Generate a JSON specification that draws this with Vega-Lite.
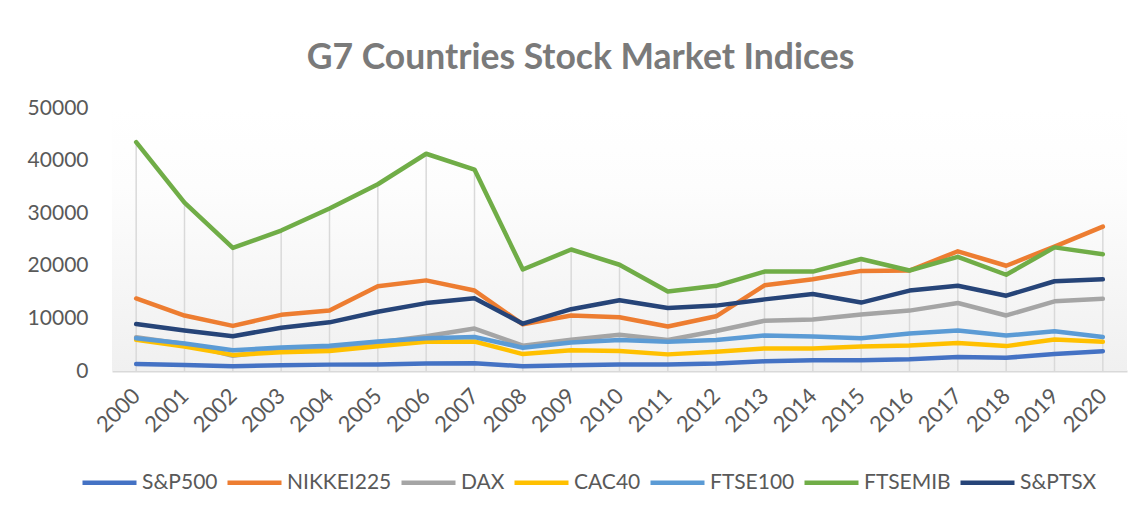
{
  "$schema": "https://vega.github.io/schema/vega-lite/v6.json",
  "width": 1015,
  "height": 263,
  "autosize": {"type": "none"},
  "padding": {"left": 112, "top": 108, "right": 20, "bottom": 145},
  "background": "#ffffff",
  "config": {
    "view": {"stroke": null},
    "font": "Lato"
  },
  "title": {
    "text": "G7 Countries Stock Market Indices",
    "font": "Lato",
    "fontSize": 35.5,
    "fontWeight": "bold",
    "color": "#7a7a7a",
    "anchor": "middle",
    "frame": "group",
    "dx": -39,
    "offset": -7,
    "baseline": "alphabetic"
  },
  "data": {
    "values": [
      {"Year":"2000","Index":"S&P500","Value":1320},{"Year":"2001","Index":"S&P500","Value":1148},{"Year":"2002","Index":"S&P500","Value":880},{"Year":"2003","Index":"S&P500","Value":1112},{"Year":"2004","Index":"S&P500","Value":1212},{"Year":"2005","Index":"S&P500","Value":1248},{"Year":"2006","Index":"S&P500","Value":1418},{"Year":"2007","Index":"S&P500","Value":1468},{"Year":"2008","Index":"S&P500","Value":903},{"Year":"2009","Index":"S&P500","Value":1115},{"Year":"2010","Index":"S&P500","Value":1258},{"Year":"2011","Index":"S&P500","Value":1258},{"Year":"2012","Index":"S&P500","Value":1426},{"Year":"2013","Index":"S&P500","Value":1848},{"Year":"2014","Index":"S&P500","Value":2059},{"Year":"2015","Index":"S&P500","Value":2044},{"Year":"2016","Index":"S&P500","Value":2239},{"Year":"2017","Index":"S&P500","Value":2674},{"Year":"2018","Index":"S&P500","Value":2507},{"Year":"2019","Index":"S&P500","Value":3231},{"Year":"2020","Index":"S&P500","Value":3756},
      {"Year":"2000","Index":"NIKKEI225","Value":13790},{"Year":"2001","Index":"NIKKEI225","Value":10540},{"Year":"2002","Index":"NIKKEI225","Value":8580},{"Year":"2003","Index":"NIKKEI225","Value":10680},{"Year":"2004","Index":"NIKKEI225","Value":11490},{"Year":"2005","Index":"NIKKEI225","Value":16110},{"Year":"2006","Index":"NIKKEI225","Value":17230},{"Year":"2007","Index":"NIKKEI225","Value":15310},{"Year":"2008","Index":"NIKKEI225","Value":8860},{"Year":"2009","Index":"NIKKEI225","Value":10550},{"Year":"2010","Index":"NIKKEI225","Value":10230},{"Year":"2011","Index":"NIKKEI225","Value":8460},{"Year":"2012","Index":"NIKKEI225","Value":10400},{"Year":"2013","Index":"NIKKEI225","Value":16290},{"Year":"2014","Index":"NIKKEI225","Value":17450},{"Year":"2015","Index":"NIKKEI225","Value":19030},{"Year":"2016","Index":"NIKKEI225","Value":19110},{"Year":"2017","Index":"NIKKEI225","Value":22760},{"Year":"2018","Index":"NIKKEI225","Value":20010},{"Year":"2019","Index":"NIKKEI225","Value":23660},{"Year":"2020","Index":"NIKKEI225","Value":27440},
      {"Year":"2000","Index":"DAX","Value":6430},{"Year":"2001","Index":"DAX","Value":5160},{"Year":"2002","Index":"DAX","Value":2890},{"Year":"2003","Index":"DAX","Value":3970},{"Year":"2004","Index":"DAX","Value":4260},{"Year":"2005","Index":"DAX","Value":5410},{"Year":"2006","Index":"DAX","Value":6600},{"Year":"2007","Index":"DAX","Value":8070},{"Year":"2008","Index":"DAX","Value":4810},{"Year":"2009","Index":"DAX","Value":5960},{"Year":"2010","Index":"DAX","Value":6910},{"Year":"2011","Index":"DAX","Value":5900},{"Year":"2012","Index":"DAX","Value":7610},{"Year":"2013","Index":"DAX","Value":9550},{"Year":"2014","Index":"DAX","Value":9810},{"Year":"2015","Index":"DAX","Value":10740},{"Year":"2016","Index":"DAX","Value":11480},{"Year":"2017","Index":"DAX","Value":12920},{"Year":"2018","Index":"DAX","Value":10560},{"Year":"2019","Index":"DAX","Value":13250},{"Year":"2020","Index":"DAX","Value":13720},
      {"Year":"2000","Index":"CAC40","Value":5930},{"Year":"2001","Index":"CAC40","Value":4630},{"Year":"2002","Index":"CAC40","Value":3060},{"Year":"2003","Index":"CAC40","Value":3560},{"Year":"2004","Index":"CAC40","Value":3820},{"Year":"2005","Index":"CAC40","Value":4720},{"Year":"2006","Index":"CAC40","Value":5540},{"Year":"2007","Index":"CAC40","Value":5610},{"Year":"2008","Index":"CAC40","Value":3220},{"Year":"2009","Index":"CAC40","Value":3940},{"Year":"2010","Index":"CAC40","Value":3800},{"Year":"2011","Index":"CAC40","Value":3160},{"Year":"2012","Index":"CAC40","Value":3640},{"Year":"2013","Index":"CAC40","Value":4300},{"Year":"2014","Index":"CAC40","Value":4270},{"Year":"2015","Index":"CAC40","Value":4640},{"Year":"2016","Index":"CAC40","Value":4860},{"Year":"2017","Index":"CAC40","Value":5310},{"Year":"2018","Index":"CAC40","Value":4730},{"Year":"2019","Index":"CAC40","Value":5980},{"Year":"2020","Index":"CAC40","Value":5550},
      {"Year":"2000","Index":"FTSE100","Value":6220},{"Year":"2001","Index":"FTSE100","Value":5220},{"Year":"2002","Index":"FTSE100","Value":3940},{"Year":"2003","Index":"FTSE100","Value":4480},{"Year":"2004","Index":"FTSE100","Value":4810},{"Year":"2005","Index":"FTSE100","Value":5620},{"Year":"2006","Index":"FTSE100","Value":6220},{"Year":"2007","Index":"FTSE100","Value":6460},{"Year":"2008","Index":"FTSE100","Value":4430},{"Year":"2009","Index":"FTSE100","Value":5410},{"Year":"2010","Index":"FTSE100","Value":5900},{"Year":"2011","Index":"FTSE100","Value":5570},{"Year":"2012","Index":"FTSE100","Value":5900},{"Year":"2013","Index":"FTSE100","Value":6750},{"Year":"2014","Index":"FTSE100","Value":6570},{"Year":"2015","Index":"FTSE100","Value":6240},{"Year":"2016","Index":"FTSE100","Value":7140},{"Year":"2017","Index":"FTSE100","Value":7690},{"Year":"2018","Index":"FTSE100","Value":6730},{"Year":"2019","Index":"FTSE100","Value":7540},{"Year":"2020","Index":"FTSE100","Value":6460},
      {"Year":"2000","Index":"FTSEMIB","Value":43500},{"Year":"2001","Index":"FTSEMIB","Value":32000},{"Year":"2002","Index":"FTSEMIB","Value":23400},{"Year":"2003","Index":"FTSEMIB","Value":26700},{"Year":"2004","Index":"FTSEMIB","Value":30900},{"Year":"2005","Index":"FTSEMIB","Value":35500},{"Year":"2006","Index":"FTSEMIB","Value":41300},{"Year":"2007","Index":"FTSEMIB","Value":38300},{"Year":"2008","Index":"FTSEMIB","Value":19300},{"Year":"2009","Index":"FTSEMIB","Value":23100},{"Year":"2010","Index":"FTSEMIB","Value":20200},{"Year":"2011","Index":"FTSEMIB","Value":15100},{"Year":"2012","Index":"FTSEMIB","Value":16200},{"Year":"2013","Index":"FTSEMIB","Value":18900},{"Year":"2014","Index":"FTSEMIB","Value":18900},{"Year":"2015","Index":"FTSEMIB","Value":21300},{"Year":"2016","Index":"FTSEMIB","Value":19100},{"Year":"2017","Index":"FTSEMIB","Value":21700},{"Year":"2018","Index":"FTSEMIB","Value":18300},{"Year":"2019","Index":"FTSEMIB","Value":23500},{"Year":"2020","Index":"FTSEMIB","Value":22200},
      {"Year":"2000","Index":"S&PTSX","Value":8930},{"Year":"2001","Index":"S&PTSX","Value":7690},{"Year":"2002","Index":"S&PTSX","Value":6620},{"Year":"2003","Index":"S&PTSX","Value":8220},{"Year":"2004","Index":"S&PTSX","Value":9250},{"Year":"2005","Index":"S&PTSX","Value":11270},{"Year":"2006","Index":"S&PTSX","Value":12910},{"Year":"2007","Index":"S&PTSX","Value":13830},{"Year":"2008","Index":"S&PTSX","Value":8990},{"Year":"2009","Index":"S&PTSX","Value":11750},{"Year":"2010","Index":"S&PTSX","Value":13440},{"Year":"2011","Index":"S&PTSX","Value":11960},{"Year":"2012","Index":"S&PTSX","Value":12430},{"Year":"2013","Index":"S&PTSX","Value":13620},{"Year":"2014","Index":"S&PTSX","Value":14630},{"Year":"2015","Index":"S&PTSX","Value":13010},{"Year":"2016","Index":"S&PTSX","Value":15290},{"Year":"2017","Index":"S&PTSX","Value":16210},{"Year":"2018","Index":"S&PTSX","Value":14320},{"Year":"2019","Index":"S&PTSX","Value":17060},{"Year":"2020","Index":"S&PTSX","Value":17430}
    ]
  },
  "layer": [
    {
      "data": {"values": [{"area": "plot"}]},
      "mark": {
        "type": "rect",
        "color": {
          "gradient": "linear",
          "x1": 0, "y1": 0, "x2": 0, "y2": 1,
          "stops": [
            {"offset": 0, "color": "#ffffff"},
            {"offset": 0.3, "color": "#fdfdfd"},
            {"offset": 1, "color": "#f0f0f0"}
          ]
        }
      },
      "encoding": {
        "y": {"datum": 50000, "type": "quantitative", "scale": {"domain": [0, 50000], "nice": false}},
        "y2": {"datum": 0}
      }
    },
    {
      "mark": {"type": "rule", "color": "#d9d9d9", "strokeWidth": 1.5},
      "encoding": {
        "x": {"field": "Year", "type": "ordinal"},
        "y": {"aggregate": "max", "field": "Value", "type": "quantitative"},
        "y2": {"datum": 0}
      }
    },
    {
      "mark": {"type": "line", "strokeWidth": 4.5, "strokeCap": "round", "strokeJoin": "round"},
      "encoding": {
        "x": {
          "field": "Year",
          "type": "ordinal",
          "scale": {"type": "point", "padding": 0.5},
          "axis": {
            "title": null,
            "grid": false,
            "ticks": false,
            "domain": true,
            "domainColor": "#d9d9d9",
            "domainWidth": 2,
            "labelAngle": -45,
            "labelFont": "Lato",
            "labelFontSize": 22,
            "labelColor": "#595959",
            "labelPadding": 21
          }
        },
        "y": {
          "field": "Value",
          "type": "quantitative",
          "scale": {"domain": [0, 50000], "nice": false},
          "axis": {
            "title": null,
            "grid": false,
            "ticks": false,
            "domain": false,
            "values": [0, 10000, 20000, 30000, 40000, 50000],
            "format": "d",
            "labelFont": "Lato",
            "labelFontSize": 21,
            "labelColor": "#595959",
            "labelPadding": 24
          }
        },
        "color": {
          "field": "Index",
          "type": "nominal",
          "scale": {
            "domain": ["S&P500", "NIKKEI225", "DAX", "CAC40", "FTSE100", "FTSEMIB", "S&PTSX"],
            "range": ["#4472C4", "#ED7D31", "#A5A5A5", "#FFC000", "#5B9BD5", "#70AD47", "#264478"]
          },
          "legend": {
            "title": null,
            "orient": "none",
            "legendX": -32,
            "legendY": 345,
            "direction": "horizontal",
            "columns": 7,
            "symbolType": "stroke",
            "symbolSize": 2916,
            "symbolStrokeWidth": 4.5,
            "labelOffset": 3,
            "columnPadding": 0,
            "padding": 0,
            "labelFont": "Lato",
            "labelFontSize": 21,
            "labelColor": "#595959",
            "labelLimit": 0
          }
        }
      }
    }
  ]
}
